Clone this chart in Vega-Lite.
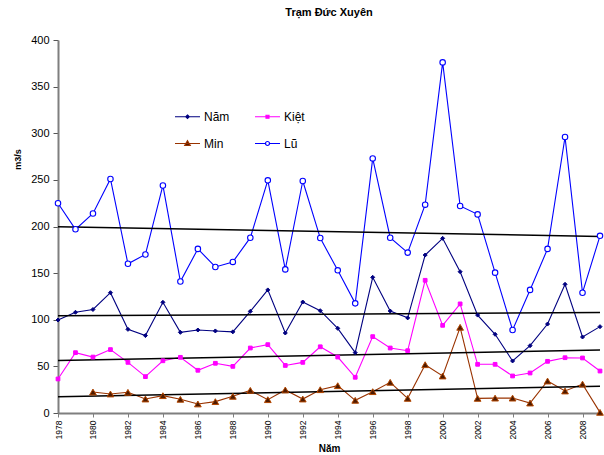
{
  "$schema": "https://vega.github.io/schema/vega-lite/v6.json",
  "autosize": {"type": "none"},
  "padding": {"left": 58, "top": 40, "right": 4, "bottom": 42},
  "width": 542,
  "height": 373,
  "background": "white",
  "config": {
    "font": "Liberation Sans",
    "view": {"stroke": null}
  },
  "title": {"text": "Trạm Đức Xuyên", "fontSize": 11, "fontWeight": "bold", "font": "Liberation Sans", "offset": 16, "color": "black"},
  "data": {
    "values": [
      {"year": 1978, "Năm": 99.7, "Kiệt": 36.5, "Min": null, "Lũ": 225},
      {"year": 1979, "Năm": 108, "Kiệt": 64.7, "Min": null, "Lũ": 197},
      {"year": 1980, "Năm": 111, "Kiệt": 60, "Min": 22.5, "Lũ": 214},
      {"year": 1981, "Năm": 129, "Kiệt": 68, "Min": 20.4, "Lũ": 251},
      {"year": 1982, "Năm": 89.7, "Kiệt": 54.3, "Min": 22.2, "Lũ": 160},
      {"year": 1983, "Năm": 83, "Kiệt": 39, "Min": 15, "Lũ": 170},
      {"year": 1984, "Năm": 118.7, "Kiệt": 56, "Min": 18.6, "Lũ": 244},
      {"year": 1985, "Năm": 86.5, "Kiệt": 59.7, "Min": 14.7, "Lũ": 141},
      {"year": 1986, "Năm": 89, "Kiệt": 45.8, "Min": 9.7, "Lũ": 176},
      {"year": 1987, "Năm": 88, "Kiệt": 53.3, "Min": 12.2, "Lũ": 156.6},
      {"year": 1988, "Năm": 87, "Kiệt": 50, "Min": 17.9, "Lũ": 162},
      {"year": 1989, "Năm": 109, "Kiệt": 69.7, "Min": 24.3, "Lũ": 188},
      {"year": 1990, "Năm": 132, "Kiệt": 73.3, "Min": 14.3, "Lũ": 249.5},
      {"year": 1991, "Năm": 85.8, "Kiệt": 51, "Min": 24.7, "Lũ": 154},
      {"year": 1992, "Năm": 119, "Kiệt": 54.3, "Min": 15, "Lũ": 248.8},
      {"year": 1993, "Năm": 109.7, "Kiệt": 71, "Min": 25, "Lũ": 187.6},
      {"year": 1994, "Năm": 90.8, "Kiệt": 60, "Min": 29.3, "Lũ": 153},
      {"year": 1995, "Năm": 64.7, "Kiệt": 38.3, "Min": 13.6, "Lũ": 117.6},
      {"year": 1996, "Năm": 145.5, "Kiệt": 81.9, "Min": 22.9, "Lũ": 273},
      {"year": 1997, "Năm": 109.4, "Kiệt": 69.7, "Min": 32.9, "Lũ": 188},
      {"year": 1998, "Năm": 102, "Kiệt": 66.8, "Min": 15.7, "Lũ": 172},
      {"year": 1999, "Năm": 169.4, "Kiệt": 142.3, "Min": 51.8, "Lũ": 223.4},
      {"year": 2000, "Năm": 187.3, "Kiệt": 94, "Min": 39.7, "Lũ": 376},
      {"year": 2001, "Năm": 151.5, "Kiệt": 117, "Min": 91.9, "Lũ": 222},
      {"year": 2002, "Năm": 105, "Kiệt": 52.2, "Min": 15.7, "Lũ": 213},
      {"year": 2003, "Năm": 84.4, "Kiệt": 52.2, "Min": 16, "Lũ": 150.5},
      {"year": 2004, "Năm": 55.8, "Kiệt": 39.7, "Min": 16, "Lũ": 89},
      {"year": 2005, "Năm": 72.2, "Kiệt": 42.9, "Min": 10.7, "Lũ": 132},
      {"year": 2006, "Năm": 95.4, "Kiệt": 55.4, "Min": 34.3, "Lũ": 176},
      {"year": 2007, "Năm": 138, "Kiệt": 59.3, "Min": 23.6, "Lũ": 296},
      {"year": 2008, "Năm": 81.5, "Kiệt": 59, "Min": 31, "Lũ": 129},
      {"year": 2009, "Năm": 92.6, "Kiệt": 45, "Min": 0.7, "Lũ": 190}
    ]
  },
  "transform": [
    {"fold": ["Năm", "Kiệt", "Min", "Lũ"], "as": ["series", "value"]},
    {"filter": "isValid(datum.value)"}
  ],
  "encoding": {
    "x": {
      "field": "year", "type": "quantitative",
      "scale": {"domain": [1978, 2009], "nice": false, "zero": false},
      "axis": {
        "title": "Năm", "titleFontSize": 10, "titleFontWeight": "bold", "titleColor": "black",
        "titleY": 35, "titleBaseline": "middle",
        "values": [1978, 1980, 1982, 1984, 1986, 1988, 1990, 1992, 1994, 1996, 1998, 2000, 2002, 2004, 2006, 2008],
        "format": "d", "labelAngle": 270, "labelAlign": "right", "labelBaseline": "middle",
        "labelFontSize": 8.5, "labelColor": "black", "labelPadding": 3,
        "tickSize": 4, "tickColor": "#7f7f7f", "domainColor": "#7f7f7f", "domainWidth": 2,
        "grid": false, "labelOverlap": false, "labelFlush": false
      }
    },
    "y": {
      "field": "value", "type": "quantitative",
      "scale": {"domain": [0, 400], "nice": false},
      "axis": {
        "title": "m3/s", "titleFontSize": 9, "titleFontWeight": "bold", "titleColor": "black",
        "titleAngle": 270, "titleX": -41, "titleY": 119, "titleAlign": "center", "titleBaseline": "middle",
        "values": [0, 50, 100, 150, 200, 250, 300, 350, 400],
        "labelFontSize": 11, "labelColor": "black", "labelPadding": 4,
        "tickSize": 5, "tickColor": "#555555", "domainColor": "#7f7f7f", "domainWidth": 2,
        "grid": false
      }
    }
  },
  "layer": [
    {
      "mark": {"type": "line", "strokeWidth": 1.1},
      "encoding": {
        "color": {
          "field": "series", "type": "nominal",
          "scale": {"domain": ["Năm", "Kiệt", "Min", "Lũ"], "range": ["#000080", "#FF00FF", "#993300", "#0000FF"]},
          "legend": {
            "title": null,
            "orient": "none", "legendX": 116, "legendY": 63,
            "direction": "horizontal",
            "columns": 2, "columnPadding": 22, "rowPadding": 7,
            "symbolSize": 625, "symbolStrokeWidth": 1.2,
            "labelFontSize": 12, "labelColor": "black", "labelOffset": 3,
            "padding": 0,
            "encode": {
              "symbols": {
                "update": {
                  "shape": {"signal": "datum.value === 'Năm' ? 'M-1,0H1M0,-0.14L0.14,0L0,0.14L-0.14,0Z' : datum.value === 'Kiệt' ? 'M-1,0H1M-0.12,-0.12H0.12V0.12H-0.12Z' : datum.value === 'Min' ? 'M-1,0H1M0,-0.22L0.22,0.16H-0.22Z' : 'M-1,0H-0.16M0.16,0H1M0.16,0A0.16,0.16,0,1,1,-0.16,0A0.16,0.16,0,1,1,0.16,0Z'"},
                  "fill": {"signal": "datum.value === 'Năm' ? '#000080' : datum.value === 'Kiệt' ? '#FF00FF' : datum.value === 'Min' ? '#4d1a00' : '#ffffff'"},
                  "stroke": {"signal": "datum.value === 'Năm' ? '#000080' : datum.value === 'Kiệt' ? '#FF00FF' : datum.value === 'Min' ? '#993300' : '#0000FF'"},
                  "opacity": {"value": 1},
                  "fillOpacity": {"value": 1}
                }
              }
            }
          }
        }
      }
    },
    {
      "transform": [
        {"regression": "value", "on": "year", "groupby": ["series"], "extent": [1978, 2009]}
      ],
      "mark": {"type": "line", "color": "black", "strokeWidth": 1.5},
      "encoding": {
        "detail": {"field": "series", "type": "nominal"}
      }
    },
    {
      "transform": [{"filter": "datum.series === 'Năm'"}],
      "mark": {"type": "point", "shape": "diamond", "size": 16, "filled": true, "fill": "#000080", "stroke": "#000080", "strokeWidth": 1, "opacity": 1}
    },
    {
      "transform": [{"filter": "datum.series === 'Kiệt'"}],
      "mark": {"type": "point", "shape": "square", "size": 14, "filled": true, "fill": "#FF00FF", "stroke": "#FF00FF", "strokeWidth": 1, "opacity": 1}
    },
    {
      "transform": [{"filter": "datum.series === 'Min'"}],
      "mark": {"type": "point", "shape": "triangle-up", "size": 45, "filled": true, "fill": "#4d1a00", "stroke": "#b34700", "strokeWidth": 1, "opacity": 1}
    },
    {
      "transform": [{"filter": "datum.series === 'Lũ'"}],
      "mark": {"type": "point", "shape": "circle", "size": 30, "filled": false, "fill": "#ffffff", "stroke": "#0000FF", "strokeWidth": 1.1, "opacity": 1}
    }
  ]
}
